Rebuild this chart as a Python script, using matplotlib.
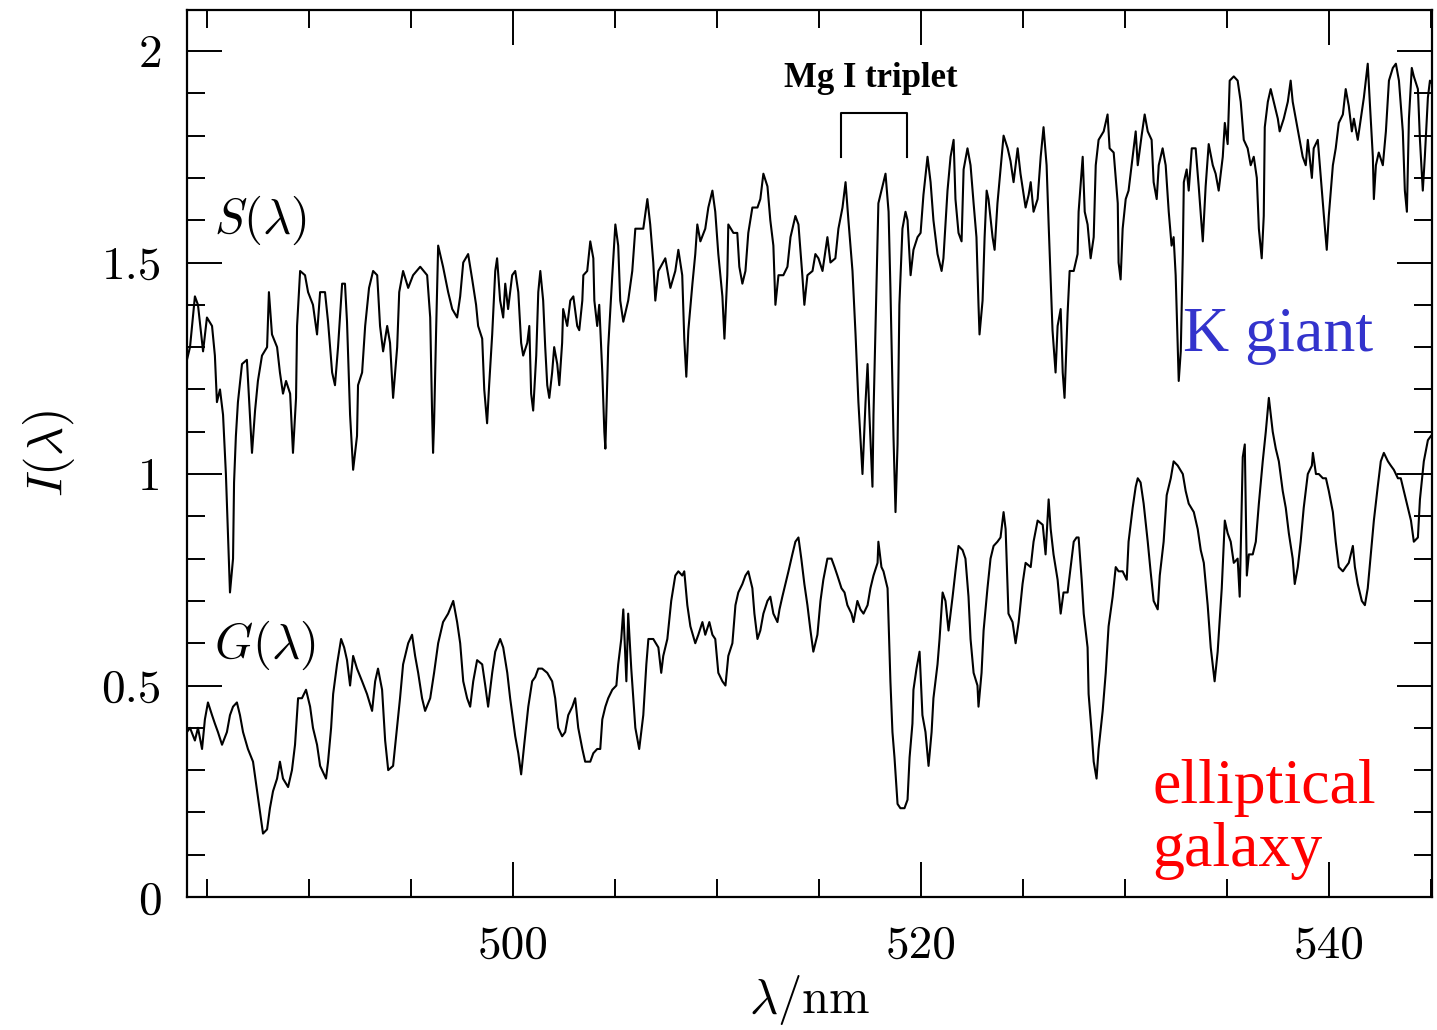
import matplotlib
matplotlib.use("Agg")
import matplotlib.pyplot as plt
from matplotlib.ticker import MultipleLocator, FuncFormatter

plt.rcParams["mathtext.fontset"] = "cm"

# K giant spectrum S(lambda): wavelength (nm) and intensity
s_lam = [484.00, 484.15, 484.39, 484.54, 484.79, 484.98, 485.23, 485.37, 485.47, 485.62,
         485.77, 485.91, 486.01, 486.11, 486.26, 486.31, 486.40, 486.50, 486.70, 486.94,
         487.09, 487.19, 487.34, 487.48, 487.68, 487.93, 488.02, 488.17, 488.42, 488.56,
         488.71, 488.86, 489.06, 489.20, 489.35, 489.40, 489.55, 489.79, 489.94, 490.18,
         490.38, 490.53, 490.77, 490.92, 491.12, 491.26, 491.41, 491.61, 491.75, 491.85,
         492.00, 492.15, 492.34, 492.39, 492.59, 492.74, 492.93, 493.13, 493.33, 493.47,
         493.62, 493.82, 493.96, 494.11, 494.31, 494.41, 494.60, 494.85, 495.09, 495.44,
         495.78, 495.93, 496.02, 496.07, 496.12, 496.22, 496.32, 496.56, 496.81, 497.01,
         497.25, 497.40, 497.55, 497.79, 497.99, 498.18, 498.28, 498.48, 498.58, 498.72,
         498.82, 498.97, 499.12, 499.21, 499.36, 499.51, 499.61, 499.75, 499.95, 500.10,
         500.25, 500.39, 500.49, 500.69, 500.79, 500.88, 500.98, 501.13, 501.23, 501.33,
         501.47, 501.57, 501.67, 501.77, 501.91, 502.01, 502.16, 502.26, 502.40, 502.45,
         502.65, 502.80, 502.95, 503.14, 503.24, 503.39, 503.44, 503.63, 503.78, 503.93,
         503.98, 504.12, 504.22, 504.37, 504.47, 504.52, 504.66, 504.86, 505.01, 505.15,
         505.25, 505.40, 505.64, 505.84, 505.99, 506.38, 506.58, 506.72, 506.87, 506.97,
         507.12, 507.46, 507.71, 507.95, 508.10, 508.29, 508.39, 508.49, 508.59, 508.79,
         508.93, 509.03, 509.18, 509.42, 509.57, 509.77, 509.91, 510.06, 510.26, 510.36,
         510.50, 510.55, 510.80, 510.99, 511.09, 511.24, 511.39, 511.53, 511.73, 511.98,
         512.12, 512.27, 512.47, 512.61, 512.76, 512.86, 513.01, 513.25, 513.45, 513.60,
         513.84, 513.99, 514.18, 514.28, 514.43, 514.68, 514.82, 514.97, 515.17, 515.41,
         515.56, 515.80, 515.95, 516.15, 516.30, 516.44, 516.64, 516.79, 516.93, 517.13,
         517.28, 517.38, 517.47, 517.62, 517.67, 517.82, 517.91, 518.11, 518.26, 518.41,
         518.50, 518.65, 518.75, 518.85, 518.94, 519.09, 519.24, 519.34, 519.49, 519.63,
         519.83, 519.98, 520.12, 520.32, 520.47, 520.61, 520.81, 521.01, 521.10, 521.30,
         521.45, 521.60, 521.69, 521.84, 521.99, 522.09, 522.28, 522.43, 522.58, 522.72,
         522.82, 522.87, 523.02, 523.12, 523.22, 523.31, 523.51, 523.61, 523.75, 523.90,
         524.05, 524.25, 524.39, 524.54, 524.74, 524.88, 525.13, 525.28, 525.38, 525.52,
         525.72, 525.87, 526.01, 526.16, 526.26, 526.36, 526.45, 526.60, 526.70, 526.85,
         526.95, 527.04, 527.19, 527.29, 527.49, 527.68, 527.73, 527.93, 528.03, 528.17,
         528.32, 528.47, 528.57, 528.71, 528.96, 529.15, 529.25, 529.45, 529.65, 529.69,
         529.79, 529.89, 530.04, 530.18, 530.33, 530.53, 530.63, 530.82, 530.97, 531.12,
         531.31, 531.41, 531.56, 531.66, 531.85, 532.00, 532.15, 532.29, 532.39, 532.49,
         532.59, 532.64, 532.74, 532.84, 532.89, 533.03, 533.13, 533.28, 533.47, 533.62,
         533.82, 533.96, 534.11, 534.31, 534.45, 534.60, 534.80, 534.90, 535.04, 535.14,
         535.34, 535.53, 535.68, 535.83, 536.02, 536.17, 536.32, 536.47, 536.57, 536.71,
         536.81, 536.86, 537.01, 537.15, 537.30, 537.50, 537.59, 537.79, 537.99, 538.13,
         538.23, 538.38, 538.53, 538.72, 538.87, 538.97, 539.17, 539.26, 539.46, 539.61,
         539.76, 539.90, 540.00, 540.20, 540.34, 540.49, 540.69, 540.83, 540.98, 541.13,
         541.23, 541.42, 541.57, 541.72, 541.91, 542.01, 542.16, 542.21, 542.31, 542.45,
         542.65, 542.80, 542.95, 543.14, 543.29, 543.44, 543.63, 543.73, 543.83, 543.93,
         544.07, 544.17, 544.37, 544.47, 544.61, 544.71, 544.86, 544.96, 545.10]
s_val = [1.27, 1.30, 1.42, 1.40, 1.29, 1.37, 1.35, 1.28, 1.17, 1.20,
         1.14, 1.00, 0.86, 0.72, 0.80, 0.98, 1.09, 1.17, 1.26, 1.27,
         1.14, 1.05, 1.15, 1.22, 1.28, 1.30, 1.43, 1.33, 1.30, 1.24,
         1.19, 1.22, 1.19, 1.05, 1.18, 1.35, 1.48, 1.47, 1.43, 1.40,
         1.33, 1.43, 1.43, 1.36, 1.24, 1.21, 1.30, 1.45, 1.45, 1.36,
         1.14, 1.01, 1.09, 1.21, 1.24, 1.35, 1.44, 1.48, 1.47, 1.35,
         1.29, 1.35, 1.31, 1.18, 1.30, 1.43, 1.48, 1.44, 1.47, 1.49,
         1.47, 1.37, 1.15, 1.05, 1.12, 1.34, 1.54, 1.49, 1.43, 1.39,
         1.37, 1.42, 1.50, 1.52, 1.46, 1.40, 1.35, 1.32, 1.20, 1.12,
         1.21, 1.33, 1.48, 1.51, 1.41, 1.37, 1.45, 1.39, 1.47, 1.48,
         1.43, 1.31, 1.28, 1.31, 1.35, 1.19, 1.15, 1.28, 1.43, 1.48,
         1.41, 1.30, 1.21, 1.18, 1.24, 1.30, 1.26, 1.21, 1.31, 1.39,
         1.35, 1.41, 1.42, 1.35, 1.34, 1.41, 1.47, 1.48, 1.55, 1.51,
         1.41, 1.35, 1.40, 1.24, 1.10, 1.06, 1.30, 1.47, 1.59, 1.54,
         1.41, 1.36, 1.41, 1.48, 1.58, 1.58, 1.65, 1.59, 1.50, 1.41,
         1.48, 1.51, 1.44, 1.48, 1.53, 1.47, 1.32, 1.23, 1.34, 1.45,
         1.52, 1.59, 1.55, 1.58, 1.63, 1.67, 1.62, 1.52, 1.42, 1.32,
         1.47, 1.59, 1.57, 1.57, 1.49, 1.45, 1.48, 1.57, 1.63, 1.63,
         1.65, 1.71, 1.68, 1.60, 1.54, 1.40, 1.47, 1.47, 1.49, 1.56,
         1.61, 1.59, 1.47, 1.40, 1.47, 1.48, 1.52, 1.51, 1.48, 1.56,
         1.50, 1.51, 1.58, 1.63, 1.69, 1.60, 1.48, 1.33, 1.17, 1.00,
         1.17, 1.26, 1.14, 0.97, 1.14, 1.45, 1.64, 1.68, 1.71, 1.62,
         1.44, 1.09, 0.91, 1.07, 1.40, 1.58, 1.62, 1.60, 1.47, 1.53,
         1.56, 1.57, 1.66, 1.75, 1.69, 1.60, 1.52, 1.48, 1.51, 1.67,
         1.75, 1.79, 1.65, 1.57, 1.55, 1.72, 1.77, 1.73, 1.64, 1.56,
         1.40, 1.33, 1.41, 1.56, 1.67, 1.65, 1.56, 1.53, 1.64, 1.72,
         1.80, 1.77, 1.74, 1.69, 1.77, 1.71, 1.63, 1.66, 1.69, 1.62,
         1.65, 1.75, 1.82, 1.73, 1.59, 1.46, 1.34, 1.24, 1.35, 1.39,
         1.24, 1.18, 1.38, 1.48, 1.48, 1.52, 1.62, 1.75, 1.62, 1.59,
         1.51, 1.56, 1.73, 1.79, 1.81, 1.85, 1.77, 1.76, 1.64, 1.50,
         1.46, 1.58, 1.65, 1.67, 1.73, 1.81, 1.73, 1.80, 1.85, 1.81,
         1.79, 1.69, 1.65, 1.73, 1.77, 1.73, 1.62, 1.54, 1.56, 1.47,
         1.30, 1.22, 1.29, 1.52, 1.69, 1.72, 1.67, 1.77, 1.77, 1.68,
         1.55, 1.68, 1.78, 1.73, 1.71, 1.67, 1.75, 1.83, 1.78, 1.93,
         1.94, 1.93, 1.88, 1.79, 1.77, 1.73, 1.75, 1.70, 1.58, 1.51,
         1.61, 1.82, 1.88, 1.91, 1.88, 1.84, 1.81, 1.84, 1.88, 1.93,
         1.88, 1.84, 1.80, 1.75, 1.73, 1.79, 1.70, 1.77, 1.79, 1.70,
         1.61, 1.53, 1.61, 1.73, 1.77, 1.83, 1.85, 1.91, 1.87, 1.81,
         1.84, 1.79, 1.84, 1.89, 1.97, 1.88, 1.75, 1.65, 1.73, 1.76,
         1.73, 1.81, 1.93, 1.96, 1.97, 1.93, 1.81, 1.67, 1.62, 1.84,
         1.96, 1.94, 1.91, 1.79, 1.67, 1.75, 1.89, 1.93, 1.92]

# elliptical galaxy spectrum G(lambda)
g_lam = [484.00, 484.15, 484.39, 484.54, 484.74, 484.88, 485.03, 485.23, 485.37, 485.52,
         485.72, 485.96, 486.11, 486.26, 486.45, 486.60, 486.75, 486.99, 487.24, 487.44,
         487.58, 487.73, 487.93, 488.07, 488.22, 488.42, 488.56, 488.71, 488.96, 489.15,
         489.30, 489.45, 489.64, 489.84, 490.04, 490.18, 490.38, 490.53, 490.82, 490.92,
         491.07, 491.17, 491.36, 491.56, 491.71, 491.85, 492.00, 492.15, 492.34, 492.59,
         492.83, 493.08, 493.23, 493.37, 493.57, 493.72, 493.87, 494.11, 494.26, 494.45,
         494.60, 494.85, 495.04, 495.19, 495.34, 495.53, 495.68, 495.93, 496.12, 496.32,
         496.56, 496.81, 497.06, 497.25, 497.40, 497.55, 497.74, 497.89, 498.04, 498.23,
         498.48, 498.63, 498.77, 498.97, 499.12, 499.36, 499.51, 499.71, 499.85, 500.10,
         500.25, 500.39, 500.54, 500.74, 500.93, 501.08, 501.23, 501.42, 501.67, 501.91,
         502.06, 502.21, 502.40, 502.55, 502.70, 502.90, 503.04, 503.19, 503.39, 503.53,
         503.78, 503.93, 504.12, 504.27, 504.37, 504.52, 504.66, 504.86, 505.06, 505.15,
         505.30, 505.40, 505.55, 505.64, 505.79, 505.89, 505.99, 506.18, 506.38, 506.53,
         506.63, 506.87, 507.12, 507.26, 507.36, 507.56, 507.75, 507.95, 508.10, 508.29,
         508.39, 508.54, 508.69, 508.93, 509.08, 509.28, 509.42, 509.62, 509.77, 509.91,
         510.06, 510.26, 510.41, 510.55, 510.75, 510.90, 511.04, 511.24, 511.39, 511.53,
         511.73, 511.83, 511.98, 512.12, 512.27, 512.47, 512.61, 512.76, 512.96, 513.06,
         513.20, 513.35, 513.50, 513.69, 513.84, 513.99, 514.13, 514.28, 514.43, 514.58,
         514.72, 514.92, 515.07, 515.21, 515.41, 515.61, 515.76, 515.90, 516.10, 516.25,
         516.39, 516.59, 516.69, 516.88, 517.03, 517.18, 517.38, 517.52, 517.67, 517.87,
         517.91, 518.06, 518.16, 518.36, 518.41, 518.50, 518.60, 518.70, 518.85, 518.99,
         519.19, 519.34, 519.44, 519.58, 519.63, 519.78, 519.93, 520.07, 520.22, 520.37,
         520.52, 520.61, 520.81, 520.91, 521.06, 521.20, 521.35, 521.55, 521.69, 521.84,
         522.04, 522.18, 522.33, 522.43, 522.58, 522.77, 522.82, 522.97, 523.07, 523.26,
         523.41, 523.56, 523.75, 523.90, 524.05, 524.15, 524.29, 524.49, 524.64, 524.79,
         524.98, 525.13, 525.38, 525.52, 525.72, 525.97, 526.11, 526.26, 526.36, 526.50,
         526.70, 526.85, 526.99, 527.19, 527.34, 527.49, 527.63, 527.73, 527.88, 527.98,
         528.17, 528.22, 528.37, 528.47, 528.61, 528.71, 528.91, 529.06, 529.20, 529.40,
         529.55, 529.69, 529.89, 530.09, 530.18, 530.38, 530.53, 530.63, 530.77, 530.92,
         531.12, 531.26, 531.41, 531.61, 531.71, 531.90, 532.05, 532.25, 532.39, 532.59,
         532.84, 532.98, 533.13, 533.38, 533.57, 533.72, 533.87, 534.06, 534.21, 534.40,
         534.55, 534.75, 534.90, 535.04, 535.19, 535.34, 535.53, 535.63, 535.78, 535.88,
         535.98, 536.08, 536.27, 536.42, 536.57, 536.76, 536.91, 537.06, 537.25, 537.40,
         537.55, 537.74, 537.89, 538.04, 538.23, 538.33, 538.48, 538.62, 538.77, 538.97,
         539.17, 539.22, 539.37, 539.51, 539.71, 539.86, 540.00, 540.20, 540.34, 540.49,
         540.69, 540.83, 540.98, 541.18, 541.28, 541.42, 541.62, 541.77, 541.91, 542.06,
         542.21, 542.40, 542.55, 542.70, 542.90, 543.04, 543.19, 543.39, 543.53, 543.68,
         543.88, 544.03, 544.17, 544.37, 544.47, 544.66, 544.86, 545.01]
g_val = [0.39, 0.40, 0.37, 0.40, 0.35, 0.42, 0.46, 0.43, 0.41, 0.39,
         0.36, 0.39, 0.43, 0.45, 0.46, 0.43, 0.39, 0.35, 0.32, 0.25,
         0.20, 0.15, 0.16, 0.21, 0.25, 0.28, 0.32, 0.28, 0.26, 0.30,
         0.36, 0.47, 0.47, 0.49, 0.45, 0.40, 0.36, 0.31, 0.28, 0.32,
         0.40, 0.48, 0.55, 0.61, 0.59, 0.56, 0.50, 0.57, 0.54, 0.51,
         0.48, 0.44, 0.51, 0.54, 0.49, 0.37, 0.30, 0.31, 0.38, 0.47,
         0.55, 0.60, 0.62, 0.57, 0.53, 0.47, 0.44, 0.47, 0.53, 0.60,
         0.65, 0.67, 0.70, 0.65, 0.60, 0.51, 0.47, 0.45, 0.51, 0.56,
         0.55, 0.50, 0.45, 0.53, 0.58, 0.61, 0.59, 0.53, 0.47, 0.38,
         0.34, 0.29, 0.36, 0.45, 0.51, 0.52, 0.54, 0.54, 0.53, 0.51,
         0.47, 0.40, 0.38, 0.39, 0.43, 0.45, 0.47, 0.40, 0.35, 0.32,
         0.32, 0.34, 0.35, 0.35, 0.42, 0.45, 0.47, 0.49, 0.50, 0.55,
         0.61, 0.68, 0.51, 0.67, 0.54, 0.47, 0.40, 0.35, 0.43, 0.55,
         0.61, 0.61, 0.59, 0.53, 0.57, 0.61, 0.70, 0.76, 0.77, 0.76,
         0.77, 0.69, 0.64, 0.60, 0.62, 0.65, 0.62, 0.65, 0.62, 0.61,
         0.53, 0.51, 0.50, 0.57, 0.60, 0.69, 0.72, 0.74, 0.76, 0.77,
         0.73, 0.67, 0.61, 0.63, 0.67, 0.70, 0.71, 0.67, 0.65, 0.68,
         0.71, 0.74, 0.77, 0.81, 0.84, 0.85, 0.80, 0.74, 0.69, 0.63,
         0.58, 0.62, 0.70, 0.75, 0.80, 0.80, 0.78, 0.76, 0.73, 0.72,
         0.69, 0.67, 0.65, 0.70, 0.68, 0.67, 0.69, 0.73, 0.76, 0.79,
         0.84, 0.78, 0.77, 0.73, 0.65, 0.51, 0.39, 0.33, 0.22, 0.21,
         0.21, 0.23, 0.33, 0.41, 0.49, 0.54, 0.58, 0.43, 0.39, 0.31,
         0.39, 0.47, 0.55, 0.61, 0.72, 0.70, 0.63, 0.71, 0.77, 0.83,
         0.82, 0.80, 0.71, 0.61, 0.53, 0.50, 0.45, 0.53, 0.63, 0.73,
         0.80, 0.83, 0.84, 0.85, 0.91, 0.87, 0.67, 0.65, 0.60, 0.65,
         0.74, 0.79, 0.78, 0.84, 0.89, 0.88, 0.81, 0.94, 0.87, 0.81,
         0.75, 0.67, 0.72, 0.72, 0.78, 0.84, 0.85, 0.85, 0.75, 0.67,
         0.59, 0.48, 0.39, 0.32, 0.28, 0.35, 0.44, 0.53, 0.64, 0.71,
         0.78, 0.77, 0.77, 0.75, 0.84, 0.92, 0.97, 0.99, 0.98, 0.93,
         0.84, 0.77, 0.70, 0.68, 0.76, 0.84, 0.95, 0.99, 1.03, 1.02,
         1.00, 0.96, 0.93, 0.91, 0.87, 0.82, 0.79, 0.69, 0.59, 0.51,
         0.58, 0.73, 0.89, 0.86, 0.84, 0.79, 0.80, 0.71, 1.04, 1.07,
         0.76, 0.81, 0.81, 0.84, 0.93, 1.03, 1.10, 1.18, 1.10, 1.06,
         1.03, 0.96, 0.92, 0.86, 0.80, 0.74, 0.78, 0.84, 0.92, 1.00,
         1.02, 1.05, 1.00, 1.00, 0.99, 0.99, 0.96, 0.91, 0.84, 0.78,
         0.77, 0.78, 0.79, 0.83, 0.78, 0.74, 0.70, 0.69, 0.73, 0.81,
         0.89, 0.97, 1.03, 1.05, 1.03, 1.02, 1.01, 0.99, 0.99, 0.96,
         0.92, 0.89, 0.84, 0.85, 0.94, 1.03, 1.08, 1.09]

y_ticks = [0, 0.5, 1, 1.5, 2]
x_ticks = [500, 520, 540]

# Mg I triplet bracket (wavelength range, bottom/top of bracket)
mg_lo, mg_hi = 516.10, 519.29
mg_y0, mg_y1 = 1.75, 1.853

fig = plt.figure(figsize=(14.37, 10.30), dpi=100)
ax = fig.add_axes([0.1301, 0.1291, 0.8664, 0.8612])

ax.plot(s_lam, s_val, color="black", lw=1.5)
ax.plot(g_lam, g_val, color="black", lw=1.5)

ax.set_xlim(484, 545.06)
ax.set_ylim(0, 2.097)

ax.set_xticks(x_ticks)
ax.set_yticks(y_ticks)
ax.xaxis.set_minor_locator(MultipleLocator(5))
ax.yaxis.set_minor_locator(MultipleLocator(0.1))
ax.yaxis.set_major_formatter(FuncFormatter(lambda v, p: "%g" % v))
ax.tick_params(which="both", direction="in", top=True, right=True, width=1.4)
ax.tick_params(which="major", length=25)
ax.tick_params(which="minor", length=13)
ax.tick_params(axis="y", pad=18)
ax.tick_params(axis="x", pad=20)
for lab in ax.get_xticklabels() + ax.get_yticklabels():
    lab.set_fontfamily("cmr10")
    lab.set_fontsize(34)
for sp in ax.spines.values():
    sp.set_linewidth(1.6)

ax.set_xlabel(r"$\lambda/\mathrm{nm}$", fontsize=35, labelpad=5)
ax.set_ylabel(r"$I(\lambda)$", fontsize=36, labelpad=18)

ax.text(485.35, 1.60, r"$S(\lambda)$", fontsize=35, va="center", ha="left")
ax.text(485.35, 0.595, r"$G(\lambda)$", fontsize=35, va="center", ha="left")

ax.plot([mg_lo, mg_lo, mg_hi, mg_hi], [mg_y0, mg_y1, mg_y1, mg_y0], color="black", lw=1.5)
ax.text((mg_lo + mg_hi) / 2 - 0.15, 1.915, "Mg I triplet", fontsize=25, ha="center", va="baseline",
        family="Liberation Serif", fontweight="bold")

ax.text(532.85, 1.29, "K giant", fontsize=46, color="#3333cc", family="Liberation Serif",
        ha="left", va="baseline")
ax.text(531.35, 0.073, "elliptical\ngalaxy", fontsize=46, color="red", family="Liberation Serif",
        ha="left", va="baseline", linespacing=1.12)

fig.savefig("out.png", dpi=100)
